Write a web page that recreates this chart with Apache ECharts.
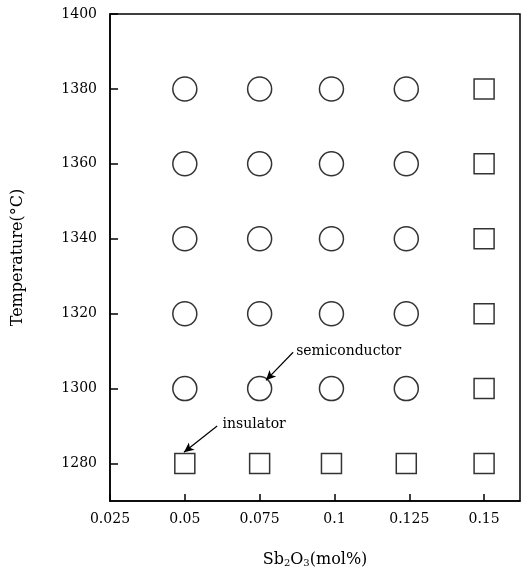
<!DOCTYPE html>
<html>
<head>
<meta charset="utf-8">
<script src="https://cdn.jsdelivr.net/npm/echarts@6/dist/echarts.min.js"></script>
<style>html,body{margin:0;padding:0;background:#fff}#c{width:522px;height:573px}</style>
</head>
<body>
<div id="c"></div>
<script>
// tick labels
const xTicks = [0.025, 0.05, 0.075, 0.1, 0.125, 0.15];
const yTicks = [1280, 1300, 1320, 1340, 1360, 1380, 1400];
// semiconductor (circles)
const semiconductorPts = [
  [0.05,1380],[0.075,1380],[0.099,1380],[0.124,1380],
  [0.05,1360],[0.075,1360],[0.099,1360],[0.124,1360],
  [0.05,1340],[0.075,1340],[0.099,1340],[0.124,1340],
  [0.05,1320],[0.075,1320],[0.099,1320],[0.124,1320],
  [0.05,1300],[0.075,1300],[0.099,1300],[0.124,1300]
];
// insulator (squares)
const insulatorPts = [
  [0.15,1380],[0.15,1360],[0.15,1340],[0.15,1320],[0.15,1300],
  [0.05,1280],[0.075,1280],[0.099,1280],[0.124,1280],[0.15,1280]
];
// annotations
const semiArrow = [[0.0862,1309.7],[0.0771,1302.2]];
const insuArrow = [[0.0608,1290.0],[0.0497,1283.0]];
const semiText = [0.0872,1310.0];
const insuText = [0.0626,1290.4];

const serif = 'DejaVu Serif';
const chart = echarts.init(document.getElementById('c'), null, {renderer:'canvas'});
chart.setOption({
  animation:false,
  backgroundColor:'#fff',
  grid:{left:110, right:2, top:14, bottom:71, show:true, borderColor:'#000', borderWidth:1.5, backgroundColor:'transparent'},
  xAxis:{
    type:'value', min:0.025, max:0.162,
    name:'{a|Sb}{s|2}{a|O}{s|3}{a|(mol%)}',
    nameLocation:'middle', nameGap:50,
    nameTextStyle:{rich:{a:{fontFamily:serif,fontSize:16,color:'#000'}, s:{fontFamily:serif,fontSize:10,color:'#000',verticalAlign:'bottom',padding:[7,0,0,0]}}},
    splitLine:{show:false},
    axisLine:{lineStyle:{color:'#000',width:1.5}},
    axisTick:{inside:true, length:7, customValues:xTicks, lineStyle:{color:'#000',width:1.5}},
    axisLabel:{customValues:xTicks, margin:11, fontFamily:serif, fontSize:14, color:'#000', formatter:v=>String(+v.toFixed(3))}
  },
  yAxis:{
    type:'value', min:1270, max:1400,
    name:'Temperature(°C)', nameLocation:'middle', nameGap:84, nameRotate:90,
    nameTextStyle:{fontFamily:serif, fontSize:16, color:'#000'},
    splitLine:{show:false},
    axisLine:{lineStyle:{color:'#000',width:1.5}},
    axisTick:{inside:true, length:8, customValues:yTicks, lineStyle:{color:'#000',width:1.5}},
    axisLabel:{customValues:yTicks, margin:13, fontFamily:serif, fontSize:14, color:'#000', formatter:v=>String(v)}
  },
  series:[
    {
      type:'scatter', name:'semiconductor', data:semiconductorPts,
      symbol:'circle', symbolSize:24,
      itemStyle:{color:'#fff', borderColor:'#000', borderWidth:1.5},
      markLine:{
        silent:true, symbol:['none','arrow'], symbolSize:[7,10],
        lineStyle:{color:'#000', width:1.2, type:'solid'}, label:{show:false},
        data:[[{coord:semiArrow[0]},{coord:semiArrow[1]}]]
      },
      markPoint:{
        silent:true, symbol:'circle', symbolSize:0,
        label:{show:true, position:'right', distance:0, fontFamily:serif, fontSize:14, color:'#000', formatter:'semiconductor'},
        data:[{coord:semiText}]
      }
    },
    {
      type:'scatter', name:'insulator', data:insulatorPts,
      symbol:'rect', symbolSize:20,
      itemStyle:{color:'#fff', borderColor:'#000', borderWidth:1.5},
      markLine:{
        silent:true, symbol:['none','arrow'], symbolSize:[7,10],
        lineStyle:{color:'#000', width:1.2, type:'solid'}, label:{show:false},
        data:[[{coord:insuArrow[0]},{coord:insuArrow[1]}]]
      },
      markPoint:{
        silent:true, symbol:'circle', symbolSize:0,
        label:{show:true, position:'right', distance:0, fontFamily:serif, fontSize:14, color:'#000', formatter:'insulator'},
        data:[{coord:insuText}]
      }
    }
  ]
});
</script>
</body>
</html>
